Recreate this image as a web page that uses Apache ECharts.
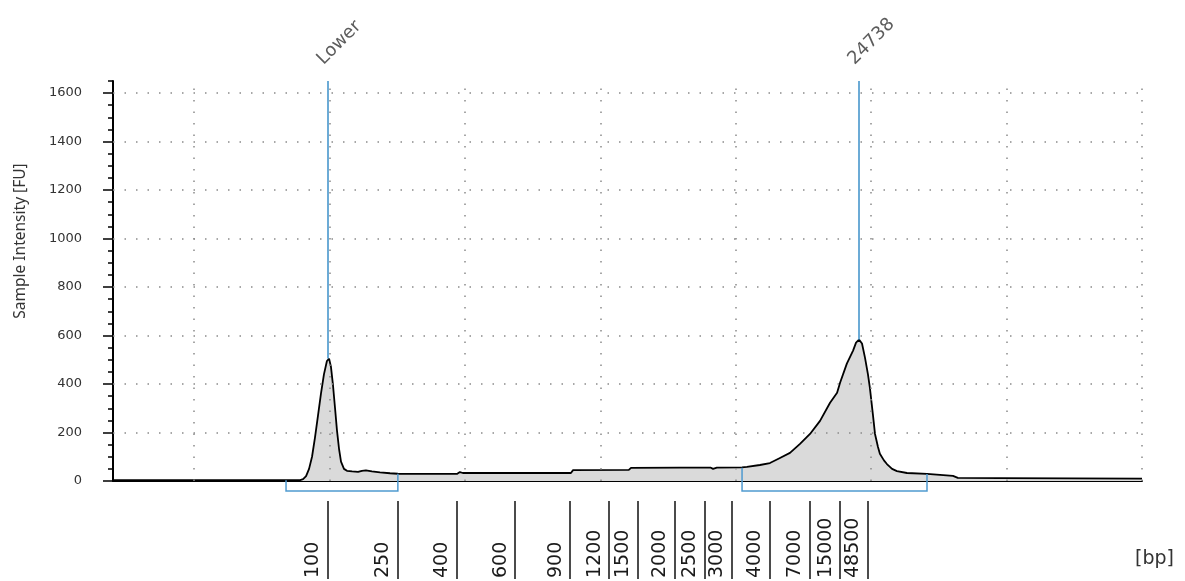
<!DOCTYPE html>
<html><head><meta charset="utf-8">
<script src="https://cdn.jsdelivr.net/npm/echarts@6/dist/echarts.min.js"></script>
<style>html,body{margin:0;padding:0;background:#fff}#c{width:1185px;height:581px}</style>
</head><body><div id="c"></div>
<script>
// migration time (s) and sample intensity (FU)
const sampleTime = [17.00, 20.21, 23.54, 23.91, 24.02, 24.13, 24.24, 24.35, 24.46, 24.57, 24.68, 24.79, 24.90, 24.98, 25.05, 25.12, 25.20, 25.27, 25.35, 25.42, 25.53, 25.64, 25.83, 26.05, 26.19, 26.34, 26.56, 26.86, 27.23, 27.52, 28.34, 29.70, 29.81, 29.92, 30.11, 33.91, 33.99, 36.05, 36.13, 37.94, 39.08, 39.16, 39.30, 40.23, 40.41, 40.89, 41.26, 41.63, 42.00, 42.37, 42.74, 43.11, 43.48, 43.74, 43.85, 44.10, 44.33, 44.44, 44.55, 44.66, 44.77, 44.88, 44.95, 45.06, 45.14, 45.25, 45.32, 45.47, 45.58, 45.77, 45.95, 46.32, 47.06, 48.02, 48.20, 49.76, 55.00];
const sampleFU   = [3, 3, 3, 4, 8, 20, 50, 100, 180, 270, 360, 440, 495, 505, 470, 400, 300, 210, 130, 80, 50, 42, 40, 38, 42, 44, 40, 36, 32, 30, 29, 29, 37, 33, 33, 33, 45, 46, 54, 55, 55, 50, 55, 56, 58, 66, 74, 95, 116, 153, 194, 248, 323, 364, 405, 484, 538, 571, 583, 567, 509, 440, 385, 277, 194, 140, 112, 85, 70, 50, 41, 33, 29, 21, 13, 12, 10];

// ladder sizing (tick labels in bp at their migration times)
const ladderTime = [24.94, 27.52, 29.70, 31.85, 33.88, 35.32, 36.39, 37.75, 38.86, 39.86, 41.26, 42.74, 43.85, 44.88];
const ladderBp   = ['100', '250', '400', '600', '900', '1200', '1500', '2000', '2500', '3000', '4000', '7000', '15000', '48500'];

// called peaks
const peakTime  = [24.94, 44.55];
const peakFU    = [505, 583];
const peakLabel = ['Lower', '24738'];

// integration regions
const regionStart   = [23.39, 40.23];
const regionEnd     = [27.52, 47.06];
const regionStartFU = [3, 55];
const regionEndFU   = [30, 29];

// axis ticks and grid
const yTicks     = [0, 200, 400, 600, 800, 1000, 1200, 1400, 1600];
const yGridFU    = [200, 400, 600, 800, 1000, 1200, 1400, 1600];
const xGridTime  = [20, 25, 30, 35, 40, 45, 50, 55];

const X_MIN = 17, X_MAX = 55, Y_MAX = 1650;
const FONT = 'DejaVu Sans';
const chart = echarts.init(document.getElementById('c'), null, {renderer: 'canvas'});
const dotted = {color: '#8a8a8a', width: 1.5, type: [1.5, 10]};

const option = {
  animation: false,
  backgroundColor: '#fff',
  grid: [
    {left: 113, right: 43, top: 81, bottom: 100, containLabel: false},
    {left: 113, right: 43, top: 503, bottom: 0, containLabel: false}
  ],
  xAxis: [
    {type: 'value', gridIndex: 0, min: X_MIN, max: X_MAX,
     axisLine: {show: true, onZero: false, lineStyle: {color: '#000', width: 2}},
     axisTick: {show: false}, axisLabel: {show: false}, splitLine: {show: false}},
    {type: 'value', gridIndex: 1, min: X_MIN, max: X_MAX, position: 'bottom',
     axisLine: {show: false, onZero: false},
     axisTick: {show: true, inside: true, length: 78, customValues: ladderTime, lineStyle: {color: '#111', width: 1.5}},
     axisLabel: {show: true, inside: true, customValues: ladderTime, rotate: 90, margin: 1,
       align: 'left', verticalAlign: 'bottom', padding: [0, 0, 5, 0],
       fontFamily: FONT, fontSize: 19, color: '#1a1a1a', showMinLabel: true, showMaxLabel: true,
       formatter: v => { const i = ladderTime.indexOf(v); return i >= 0 ? ladderBp[i] : ''; }},
     splitLine: {show: false},
     name: '[bp]', nameLocation: 'end', nameGap: -7,
     nameTextStyle: {fontFamily: FONT, fontSize: 19, color: '#333', align: 'left', verticalAlign: 'bottom', padding: [0, 0, 10, 0]}}
  ],
  yAxis: [
    {type: 'value', gridIndex: 0, min: 0, max: Y_MAX, position: 'left',
     axisLine: {show: true, lineStyle: {color: '#000', width: 2}},
     axisTick: {show: true, length: 10, customValues: yTicks, lineStyle: {color: '#000', width: 1.5}},
     axisLabel: {customValues: yTicks, margin: 31, fontFamily: FONT, fontSize: 13, color: '#333', formatter: v => String(v)},
     splitLine: {show: false},
     name: 'Sample Intensity [FU]', nameLocation: 'middle', nameGap: 84,
     nameTextStyle: {fontFamily: 'Noto Sans', fontSize: 15.5, color: '#333', padding: [0, 0, 0, 80]}},
    {type: 'value', gridIndex: 0, min: 0, max: Y_MAX, interval: 50, position: 'left',
     axisLine: {show: false},
     axisTick: {show: true, length: 5, lineStyle: {color: '#000', width: 1.5}},
     axisLabel: {show: false}, splitLine: {show: false}},
    {type: 'value', gridIndex: 1, min: 0, max: 1, show: false}
  ],
  series: [
    {type: 'line', data: [], silent: true, xAxisIndex: 0, yAxisIndex: 0,
     markLine: {silent: true, symbol: ['none', 'none'], label: {show: false}, lineStyle: dotted,
       data: xGridTime.map(t => ({xAxis: t})).concat(yGridFU.map(v => ({yAxis: v})))}},
    {type: 'line', name: 'sample', data: sampleTime.map((t, i) => [t, sampleFU[i]]),
     xAxisIndex: 0, yAxisIndex: 0,
     symbol: 'none', silent: true, z: 2,
     lineStyle: {color: '#000', width: 1.8},
     areaStyle: {color: '#dadada', opacity: 1},
     markLine: {silent: true, symbol: ['none', 'none'], label: {show: false},
       lineStyle: {color: '#3b8fc8', width: 1.5, type: 'solid'},
       data: peakTime.map((t, i) => [{coord: [t, peakFU[i]]}, {coord: [t, Y_MAX]}])}},
    {type: 'scatter', data: peakTime.map(t => [t, Y_MAX]), symbolSize: 1, silent: true, clip: false,
     xAxisIndex: 0, yAxisIndex: 0,
     itemStyle: {color: 'rgba(0,0,0,0)'},
     label: {show: true, formatter: p => peakLabel[p.dataIndex], position: 'inside', rotate: 45,
       align: 'left', verticalAlign: 'middle', offset: [8, -19],
       fontFamily: FONT, fontSize: 18, color: '#333'}},
    {type: 'custom', silent: true, clip: false, z: 4, xAxisIndex: 0, yAxisIndex: 0,
     data: regionStart.map((s, i) => [s, regionEnd[i], regionStartFU[i], regionEndFU[i]]),
     encode: {x: [0, 1], y: [2, 3]},
     renderItem: (params, api) => {
       const a = api.coord([api.value(0), api.value(2)]);
       const b = api.coord([api.value(1), api.value(3)]);
       const base = api.coord([api.value(0), 0])[1] + 10;
       return {type: 'polyline', shape: {points: [a, [a[0], base], [b[0], base], b]},
               style: {stroke: '#4f9ad0', lineWidth: 1.5, fill: null}};
     }}
  ]
};
chart.setOption(option);
</script></body></html>
